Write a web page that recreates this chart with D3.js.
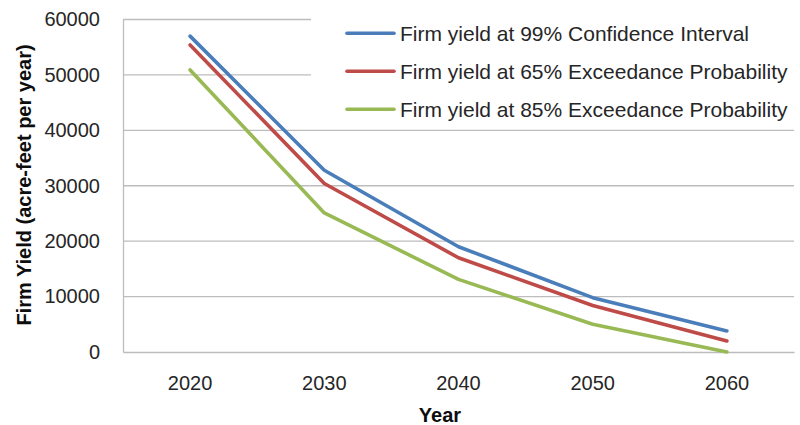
<!DOCTYPE html>
<html>
<head>
<meta charset="utf-8">
<script src="https://cdn.jsdelivr.net/npm/d3@7"></script>
<style>
  html, body { margin: 0; padding: 0; background: #ffffff; }
  svg { display: block; font-family: "Liberation Sans", Arial, sans-serif; }
</style>
</head>
<body>
<svg id="chart" width="800" height="425"></svg>
<script>
// Years on the category axis
const years = ["2020", "2030", "2040", "2050", "2060"];

// Firm yield (acre-feet per year) for each scenario
const confidence99 = [57000, 32800, 19000, 9800, 3800];
const exceedance65 = [55400, 30400, 17000, 8400, 2000];
const exceedance85 = [50900, 25100, 13100, 5000, 0];

const seriesNames = [
  "Firm yield at 99% Confidence Interval",
  "Firm yield at 65% Exceedance Probability",
  "Firm yield at 85% Exceedance Probability"
];

// Value axis ticks
const yTicks = [0, 10000, 20000, 30000, 40000, 50000, 60000];

const series = [
  { name: seriesNames[0], values: confidence99, color: "#4a7ebb" },
  { name: seriesNames[1], values: exceedance65, color: "#be4b48" },
  { name: seriesNames[2], values: exceedance85, color: "#98b954" }
];

const svg = d3.select("#chart");
const plot = { left: 123, right: 794, top: 19.5, bottom: 352 };

const x = d3.scaleBand().domain(years).range([plot.left, plot.right]);
const y = d3.scaleLinear().domain([0, 60000]).range([plot.bottom, plot.top]);

// Horizontal gridlines
svg.append("g")
  .selectAll("line")
  .data(yTicks.filter(d => d > 0))
  .join("line")
  .attr("x1", plot.left).attr("x2", plot.right)
  .attr("y1", d => y(d)).attr("y2", d => y(d))
  .attr("stroke", "#bdbdbd").attr("stroke-width", 1.3);

// Value axis
const yAxis = svg.append("g")
  .attr("transform", `translate(${plot.left},0)`)
  .call(d3.axisLeft(y).tickValues(yTicks).tickSize(0).tickPadding(23).tickFormat(d3.format("d")));
yAxis.select(".domain").attr("stroke", "#bdbdbd").attr("stroke-width", 1.3);
yAxis.selectAll("text").attr("font-size", 20).attr("fill", "#262626")
  .attr("font-family", "Liberation Sans, Arial, sans-serif");

// Category axis
const xAxis = svg.append("g")
  .attr("transform", `translate(0,${plot.bottom})`)
  .call(d3.axisBottom(x).tickSize(0).tickPadding(24));
xAxis.select(".domain").attr("stroke", "#bdbdbd").attr("stroke-width", 1.3);
xAxis.selectAll("text").attr("font-size", 20).attr("fill", "#262626")
  .attr("font-family", "Liberation Sans, Arial, sans-serif");

// Series lines
const line = d3.line()
  .x((d, i) => x(years[i]) + x.bandwidth() / 2)
  .y(d => y(d));

svg.append("g")
  .selectAll("path")
  .data(series)
  .join("path")
  .attr("d", d => line(d.values))
  .attr("fill", "none")
  .attr("stroke", d => d.color)
  .attr("stroke-width", 3.6)
  .attr("stroke-linejoin", "round")
  .attr("stroke-linecap", "round");

// Legend box over the upper right of the plot
const legend = svg.append("g");
legend.append("rect")
  .attr("x", 311).attr("y", 0).attr("width", 489).attr("height", 124)
  .attr("fill", "#ffffff");

const legendRows = legend.selectAll("g.row")
  .data(series)
  .join("g")
  .attr("class", "row")
  .attr("transform", (d, i) => `translate(347,${33.3 + i * 38})`);

legendRows.append("line")
  .attr("x1", 0).attr("x2", 47)
  .attr("stroke", d => d.color)
  .attr("stroke-width", 3.6)
  .attr("stroke-linecap", "round");

legendRows.append("text")
  .attr("x", 53).attr("dy", "0.35em")
  .attr("font-size", 21)
  .attr("fill", "#262626")
  .text(d => d.name);

// Axis titles
svg.append("text")
  .attr("x", 440).attr("y", 415).attr("dy", "0.35em")
  .attr("text-anchor", "middle")
  .attr("font-size", 20).attr("font-weight", "bold").attr("fill", "#0d0d0d")
  .text("Year");

svg.append("text")
  .attr("transform", "translate(24,185) rotate(-90)")
  .attr("dy", "0.35em")
  .attr("text-anchor", "middle")
  .attr("font-size", 20).attr("font-weight", "bold").attr("fill", "#0d0d0d")
  .text("Firm Yield (acre-feet per year)");
</script>
</body>
</html>
